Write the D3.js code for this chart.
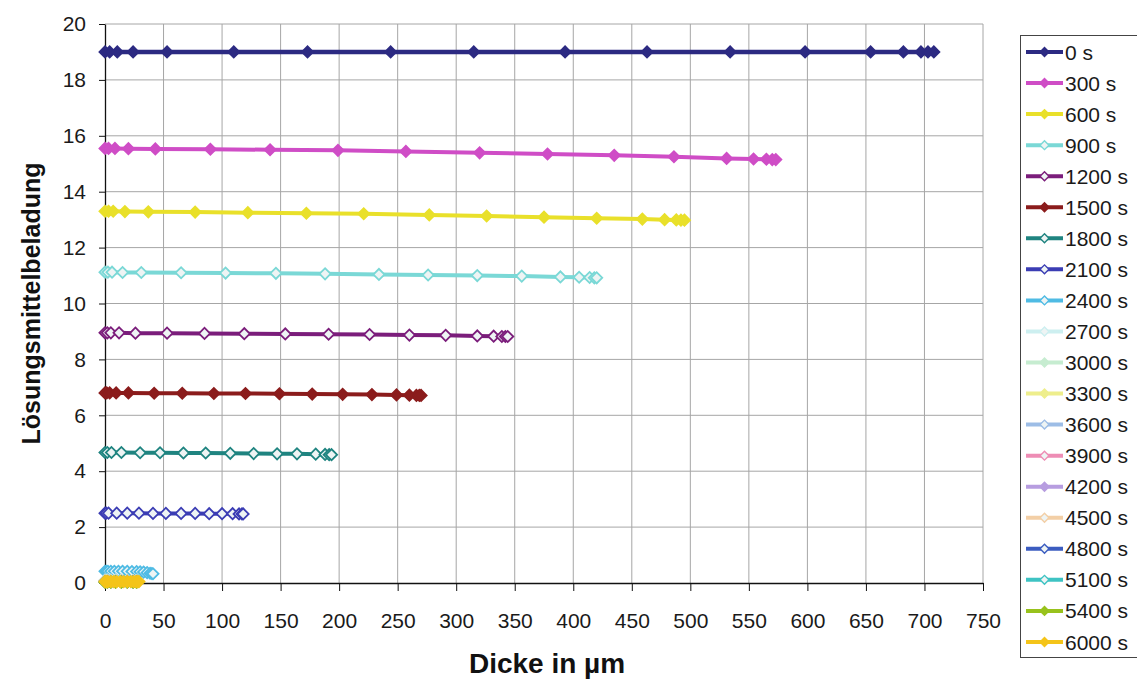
<!DOCTYPE html>
<html>
<head>
<meta charset="utf-8">
<script src="https://cdn.jsdelivr.net/npm/d3@7"></script>
<style>
  body { margin: 0; background: #fff; }
  svg { display: block; font-family: "Liberation Sans", Arial, sans-serif; }
</style>
</head>
<body>
<svg id="chart" width="1137" height="679"></svg>
<script>
// tick labels
const xTicks = [0, 50, 100, 150, 200, 250, 300, 350, 400, 450, 500, 550, 600, 650, 700, 750];
const yTicks = [0, 2, 4, 6, 8, 10, 12, 14, 16, 18, 20];

const seriesLabels = ["0 s", "300 s", "600 s", "900 s", "1200 s", "1500 s", "1800 s", "2100 s", "2400 s",
  "2700 s", "3000 s", "3300 s", "3600 s", "3900 s", "4200 s", "4500 s", "4800 s", "5100 s", "5400 s", "6000 s"];

// thickness (µm) and solvent load per series
const x_0 = [0, 4, 10.5, 24, 53, 110, 173, 244, 315, 393, 463, 534, 598, 654, 682, 697, 703, 708];
const y_0 = [19, 19, 19, 19, 19, 19, 19, 19, 19, 19, 19, 19, 19, 19, 19, 19, 19, 19];
const x_300 = [0, 3, 8.5, 20, 43, 90, 141, 199, 257, 320, 378, 435, 486, 531, 554, 565, 570, 573];
const y_300 = [15.55, 15.55, 15.55, 15.54, 15.53, 15.52, 15.50, 15.48, 15.44, 15.39, 15.35, 15.30, 15.25, 15.19, 15.17, 15.16, 15.15, 15.15];
const x_600 = [0, 3, 7, 17, 37, 77, 122, 172, 221, 277, 326, 375, 420, 459, 478, 488, 492, 495];
const y_600 = [13.30, 13.30, 13.30, 13.29, 13.28, 13.27, 13.25, 13.23, 13.21, 13.17, 13.13, 13.09, 13.05, 13.02, 13.00, 12.99, 12.98, 12.98];
const x_900 = [0, 2.5, 6, 15, 31, 65, 103, 146, 188, 234, 276, 318, 356, 389, 405, 414, 418, 420];
const y_900 = [11.12, 11.12, 11.12, 11.11, 11.11, 11.10, 11.09, 11.08, 11.06, 11.04, 11.02, 11.00, 10.98, 10.95, 10.94, 10.93, 10.92, 10.92];
const x_1200 = [0, 2, 5, 12, 26, 53, 85, 119, 154, 191, 226, 260, 291, 318, 332, 339, 342, 344];
const y_1200 = [8.95, 8.95, 8.95, 8.95, 8.94, 8.94, 8.93, 8.92, 8.91, 8.90, 8.89, 8.87, 8.86, 8.84, 8.83, 8.82, 8.82, 8.82];
const x_1500 = [0, 1.5, 4, 9.5, 20, 42, 66, 93, 120, 149, 177, 203, 228, 249, 260, 266, 268.5, 270];
const y_1500 = [6.80, 6.80, 6.80, 6.80, 6.80, 6.79, 6.79, 6.78, 6.78, 6.77, 6.76, 6.75, 6.74, 6.73, 6.72, 6.71, 6.71, 6.71];
const x_1800 = [0, 2, 5.5, 14, 30, 47, 67, 86, 107, 127, 147, 164, 180, 188, 191.5, 193.5];
const y_1800 = [4.67, 4.67, 4.67, 4.67, 4.66, 4.66, 4.65, 4.65, 4.64, 4.63, 4.62, 4.62, 4.61, 4.60, 4.59, 4.59];
const x_2100 = [0, 1, 3, 10, 19, 29, 41, 52, 65, 77, 89, 100, 109, 114.5, 117, 118];
const y_2100 = [2.50, 2.50, 2.50, 2.50, 2.50, 2.50, 2.49, 2.49, 2.49, 2.49, 2.48, 2.48, 2.48, 2.47, 2.47, 2.47];
const x_2400 = [0, 1, 2.5, 5, 8, 11.5, 15, 19, 23, 27, 30, 33, 36, 38.5, 40, 41];
const y_2400 = [0.42, 0.42, 0.42, 0.42, 0.42, 0.42, 0.42, 0.42, 0.41, 0.41, 0.40, 0.39, 0.37, 0.35, 0.34, 0.33];
const x_2700 = [0, 2, 5, 9, 14, 19, 24, 27];
const y_2700 = [0.10, 0.10, 0.10, 0.10, 0.10, 0.10, 0.09, 0.09];
const x_3000 = [0, 2, 5, 9, 14, 19, 24, 27];
const y_3000 = [0.09, 0.09, 0.09, 0.09, 0.09, 0.09, 0.08, 0.08];
const x_3300 = [0, 2, 5, 9, 14, 19, 24, 27];
const y_3300 = [0.08, 0.08, 0.08, 0.08, 0.08, 0.08, 0.07, 0.07];
const x_3600 = [0, 2, 5, 9, 14, 19, 24, 27];
const y_3600 = [0.07, 0.07, 0.07, 0.07, 0.07, 0.07, 0.06, 0.06];
const x_3900 = [0, 2, 5, 9, 14, 19, 24, 27];
const y_3900 = [0.06, 0.06, 0.06, 0.06, 0.06, 0.06, 0.06, 0.06];
const x_4200 = [0, 2, 5, 9, 14, 19, 24, 27];
const y_4200 = [0.05, 0.05, 0.05, 0.05, 0.05, 0.05, 0.05, 0.05];
const x_4500 = [0, 2, 5, 9, 14, 19, 24, 27];
const y_4500 = [0.05, 0.05, 0.05, 0.05, 0.05, 0.05, 0.04, 0.04];
const x_4800 = [0, 2, 5, 9, 14, 19, 24, 27];
const y_4800 = [0.04, 0.04, 0.04, 0.04, 0.04, 0.04, 0.04, 0.04];
const x_5100 = [0, 2, 5, 9, 14, 19, 24, 27];
const y_5100 = [0.04, 0.04, 0.04, 0.04, 0.04, 0.04, 0.03, 0.03];
const x_5400 = [0, 2, 5, 9, 14, 19, 24, 27];
const y_5400 = [0.03, 0.03, 0.03, 0.03, 0.03, 0.03, 0.03, 0.03];
const x_6000 = [0, 1, 2.5, 5, 7.5, 10, 13, 16, 19, 22, 24.5, 26.5, 28, 29];
const y_6000 = [0.05, 0.05, 0.05, 0.05, 0.05, 0.05, 0.05, 0.05, 0.05, 0.05, 0.05, 0.05, 0.05, 0.05];

const seriesX = [x_0, x_300, x_600, x_900, x_1200, x_1500, x_1800, x_2100, x_2400, x_2700,
  x_3000, x_3300, x_3600, x_3900, x_4200, x_4500, x_4800, x_5100, x_5400, x_6000];
const seriesY = [y_0, y_300, y_600, y_900, y_1200, y_1500, y_1800, y_2100, y_2400, y_2700,
  y_3000, y_3300, y_3600, y_3900, y_4200, y_4500, y_4800, y_5100, y_5400, y_6000];

// styling
const colors = ["#2c2a82", "#cf4dc6", "#e9e02a", "#7ad8d6", "#7b1d7b", "#8b1c1c", "#1f8480", "#3b3db4", "#4fbbe4", "#cdeff0",
  "#c6ecd0", "#eeee8c", "#9dbde6", "#ee8db5", "#b79de0", "#f3cfa6", "#3b5cc0", "#3ec3c3", "#98c21c", "#f4c419"];
const hollow = [false, false, false, true, true, false, true, true, true, true,
  false, false, true, true, false, true, true, true, false, false];

const svg = d3.select("#chart");
const margin = { top: 24, right: 154, bottom: 96, left: 105 };
const width = +svg.attr("width") - margin.left - margin.right;
const height = +svg.attr("height") - margin.top - margin.bottom;

const g = svg.append("g").attr("transform", `translate(${margin.left},${margin.top})`);

const x = d3.scaleLinear().domain([0, 750]).range([0, width]);
const y = d3.scaleLinear().domain([0, 20]).range([height, 0]);

// gridlines
g.append("g")
  .selectAll("line.v")
  .data(xTicks.slice(1))
  .join("line")
  .attr("x1", d => x(d)).attr("x2", d => x(d))
  .attr("y1", 0).attr("y2", height)
  .attr("stroke", "#a6a6a6").attr("stroke-width", 1);

g.append("g")
  .selectAll("line.h")
  .data(yTicks.slice(1))
  .join("line")
  .attr("x1", 0).attr("x2", width)
  .attr("y1", d => y(d)).attr("y2", d => y(d))
  .attr("stroke", "#a6a6a6").attr("stroke-width", 1);

// axes
const yAxis = g.append("g")
  .call(d3.axisLeft(y).tickValues(yTicks).tickSize(6).tickPadding(13).tickSizeOuter(0));
const xAxis = g.append("g")
  .attr("transform", `translate(0,${height})`)
  .call(d3.axisBottom(x).tickValues(xTicks).tickSize(8).tickPadding(22).tickSizeOuter(0));

[xAxis, yAxis].forEach(a => {
  a.select(".domain").attr("stroke", "#111").attr("stroke-width", 1.3);
  a.selectAll(".tick line").attr("stroke", "#111");
  a.selectAll(".tick text")
    .style("font-family", "'Liberation Sans', Arial, sans-serif")
    .style("font-size", "21px")
    .attr("fill", "#1a1a1a");
});

// series
const line = d3.line().x(d => x(d[0])).y(d => y(d[1]));
const diamond = d3.symbol().type(d3.symbolSquare).size(62);

seriesLabels.forEach((label, i) => {
  const pts = seriesX[i].map((v, k) => [v, seriesY[i][k]]);
  const sg = g.append("g");
  sg.append("path")
    .datum(pts)
    .attr("d", line)
    .attr("fill", "none")
    .attr("stroke", colors[i])
    .attr("stroke-width", i === 0 ? 4.5 : 4);
  sg.selectAll("path.m")
    .data(pts)
    .join("path")
    .attr("class", "m")
    .attr("d", diamond)
    .attr("transform", d => `translate(${x(d[0])},${y(d[1])}) rotate(45)`)
    .attr("fill", hollow[i] ? "#eef4f4" : colors[i])
    .attr("stroke", colors[i])
    .attr("stroke-width", 1.8);
});

// axis titles
svg.append("text")
  .attr("x", margin.left + width / 2 + 3)
  .attr("y", 673)
  .attr("text-anchor", "middle")
  .style("font-size", "28px")
  .style("font-weight", "bold")
  .attr("fill", "#111")
  .text("Dicke in µm");

svg.append("text")
  .attr("transform", `translate(40,${margin.top + height / 2}) rotate(-90)`)
  .attr("text-anchor", "middle")
  .style("font-size", "25px")
  .style("font-weight", "bold")
  .attr("fill", "#111")
  .text("Lösungsmittelbeladung");

// legend
const lg = svg.append("g").attr("transform", "translate(1020,35)");
lg.append("rect")
  .attr("x", 0.5).attr("y", 0.5)
  .attr("width", 130).attr("height", 622)
  .attr("fill", "#fff")
  .attr("stroke", "#444").attr("stroke-width", 1);

const rows = lg.selectAll("g.row")
  .data(seriesLabels)
  .join("g")
  .attr("class", "row")
  .attr("transform", (d, i) => `translate(0,${17 + i * 31.05})`);

rows.append("line")
  .attr("x1", 6).attr("x2", 43)
  .attr("stroke", (d, i) => colors[i])
  .attr("stroke-width", 4);
rows.append("path")
  .attr("d", d3.symbol().type(d3.symbolSquare).size(40))
  .attr("transform", "translate(24.5,0) rotate(45)")
  .attr("fill", (d, i) => hollow[i] ? "#eef4f4" : colors[i])
  .attr("stroke", (d, i) => colors[i])
  .attr("stroke-width", 1.4);
rows.append("text")
  .attr("x", 45)
  .attr("dy", "0.36em")
  .style("font-size", "21px")
  .attr("fill", "#1a1a1a")
  .text(d => d);
</script>
</body>
</html>
